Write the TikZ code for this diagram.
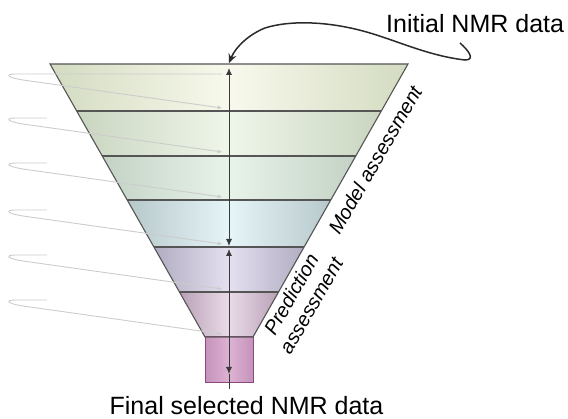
\documentclass[tikz,border=0pt]{standalone}
\usepackage{fontspec}
\setmainfont{Liberation Sans}
\usetikzlibrary{arrows.meta}
\definecolor{bAe}{HTML}{D3DBC1}\definecolor{bAm}{HTML}{F8F9EC}
\definecolor{bBe}{HTML}{C9D5C0}\definecolor{bBm}{HTML}{EFF6EA}
\definecolor{bCe}{HTML}{C4D2C5}\definecolor{bCm}{HTML}{E8F3EA}
\definecolor{bDe}{HTML}{B7C8CB}\definecolor{bDm}{HTML}{E6F5F7}
\definecolor{bEe}{HTML}{B1ACC1}\definecolor{bEm}{HTML}{E4E0F0}
\definecolor{bFe}{HTML}{B8A1B6}\definecolor{bFm}{HTML}{EADBE8}
\definecolor{boxe}{HTML}{C592BB}\definecolor{boxm}{HTML}{DDB3D3}
\definecolor{boxline}{HTML}{8A4A7C}
\definecolor{linegray}{HTML}{555555}
\definecolor{hairgray}{HTML}{CCCCCC}
\definecolor{axisgray}{HTML}{3A3A3A}
\definecolor{curvecol}{HTML}{2A2A2A}
\begin{document}
\begin{tikzpicture}[x=1pt,y=-1pt,
  sepline/.style={draw=linegray,line width=1.1pt},
  hair/.style={draw=hairgray,line width=0.9pt,-{Stealth[length=5pt,width=4pt]}},
  axisline/.style={draw=axisgray,line width=0.8pt},
  dblarrow/.style={axisline,{Latex[length=7pt,width=6pt]}-{Latex[length=7pt,width=6pt]}},
  curvearrow/.style={draw=curvecol,line width=1.5pt,-{Stealth[length=9pt,width=8pt]}},
  bigtext/.style={inner sep=0pt,font=\fontsize{25}{29}\selectfont},
  sidetext/.style={inner sep=0pt,font=\fontsize{20}{23}\selectfont\itshape,rotate=60,align=center}
]
\useasboundingbox (0,0) rectangle (568,419);
% funnel bands
\shade[left color=bAe,right color=bAe,middle color=bAm] (50,64) -- (408,64) -- (381.3,111) -- (76.7,111) -- cycle;
\shade[left color=bBe,right color=bBe,middle color=bBm] (76.7,111) -- (381.3,111) -- (355.8,156) -- (102.2,156) -- cycle;
\shade[left color=bCe,right color=bCe,middle color=bCm] (102.2,156) -- (355.8,156) -- (330.8,200) -- (127.2,200) -- cycle;
\shade[left color=bDe,right color=bDe,middle color=bDm] (127.2,200) -- (330.8,200) -- (304.1,247) -- (153.9,247) -- cycle;
\shade[left color=bEe,right color=bEe,middle color=bEm] (153.9,247) -- (304.1,247) -- (278.5,292) -- (179.5,292) -- cycle;
\shade[left color=bFe,right color=bFe,middle color=bFm] (179.5,292) -- (278.5,292) -- (253,337) -- (205,337) -- cycle;
% stem box
\shade[left color=boxe,right color=boxe,middle color=boxm] (205,337) rectangle (253,383);
\draw[draw=boxline,line width=1pt] (205,337) rectangle (253,383);
% separators and outline
\draw[sepline] (76.7,111) -- (381.3,111);
\draw[sepline] (102.2,156) -- (355.8,156);
\draw[sepline] (127.2,200) -- (330.8,200);
\draw[sepline] (153.9,247) -- (304.1,247);
\draw[sepline] (179.5,292) -- (278.5,292);
\draw[sepline] (50,64) -- (408,64) -- (253,337) -- (205,337) -- cycle;
% light gray hairpin arrows
\foreach \y/\s in {74/222,118/47,163/47,210/47,255/47,300/47}{
  \draw[hair] (\s,\y) -- (16,\y) .. controls (4,\y) and (6,\y+4) .. (30,\y+7) -- (222,\y+34);
}
% vertical axis with arrows
\coordinate (mtop) at (229,68);
\coordinate (mbot) at (229,246);
\coordinate (ptop) at (229,249);
\coordinate (pbot) at (229,374);
\coordinate (tail) at (229,389);
\draw[dblarrow] (mtop) -- (mbot);
\draw[dblarrow] (ptop) -- (pbot);
\draw[axisline] (pbot) -- (tail);
% texts
\node[bigtext,anchor=base west] (init) at (386,33) {Initial NMR data};
\node[bigtext,anchor=base] (final) at (246.5,415) {Final selected NMR data};
\node[sidetext] (model) at (375,160) {Model assessment};
\node[sidetext] (pred) at (301,300) {Prediction\\assessment};
% curved arrow
\coordinate (hook) at (460,43);
\coordinate (entry) at (229,63);
\draw[curvearrow] (hook) .. controls (468,50) and (476,60) .. (465,60)
  .. controls (430,56) and (400,42) .. (370,33)
  .. controls (330,21) and (290,20) .. (265,28)
  .. controls (250,34) and (236,46) .. (entry);
\end{tikzpicture}
\end{document}
